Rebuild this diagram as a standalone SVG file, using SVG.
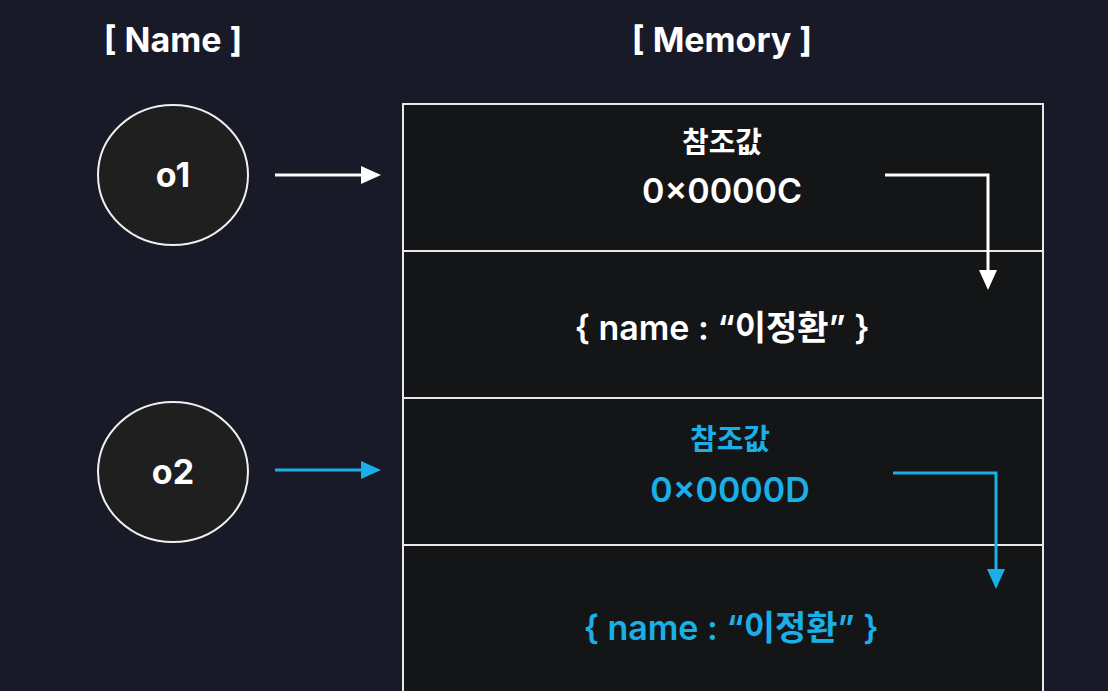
<svg xmlns="http://www.w3.org/2000/svg" width="1108" height="691" viewBox="0 0 1108 691">
<style>
.t{font-family:Inter,"Noto Sans CJK KR",sans-serif;font-weight:700;text-anchor:middle;fill:#ffffff}
.m{font-weight:600;font-size:34px}
.k{font-size:29px}
.b{fill:#1aafe6}
.cell{fill:#131517;stroke:#e8e8e8;stroke-width:2}
.node{fill:#1f1f1f;stroke:#f0f0f0;stroke-width:2}
</style>
<defs>
<marker id="aw" markerWidth="20" markerHeight="18" refX="4" refY="5" orient="auto" markerUnits="userSpaceOnUse" viewBox="0 0 10 10" preserveAspectRatio="none"><path d="M0,0 L10,5 L0,10 z" fill="#ffffff"/></marker>
<marker id="ab" markerWidth="20" markerHeight="18" refX="4" refY="5" orient="auto" markerUnits="userSpaceOnUse" viewBox="0 0 10 10" preserveAspectRatio="none"><path d="M0,0 L10,5 L0,10 z" fill="#1aafe6"/></marker>
</defs>
<rect width="1108" height="691" fill="#191a27"/>
<text class="t" x="173" y="52" font-size="34">[ Name ]</text>
<text class="t" x="722" y="52" font-size="34">[ Memory ]</text>
<g id="o1"><ellipse class="node" cx="173" cy="175" rx="75" ry="70"/><text class="t" x="173" y="187" font-size="34">o1</text></g>
<g id="o2"><ellipse class="node" cx="173" cy="472" rx="75" ry="70"/><text class="t" x="173" y="484" font-size="34">o2</text></g>
<g id="memory">
<rect class="cell" x="403" y="104" width="640" height="147"/>
<rect class="cell" x="403" y="251" width="640" height="147"/>
<rect class="cell" x="403" y="398" width="640" height="147"/>
<rect class="cell" x="403" y="545" width="640" height="147"/>
</g>
<g id="ref1"><text class="t k" x="722" y="153">참조값</text><text class="t m" x="722" y="203">0×0000C</text></g>
<g id="obj1"><text class="t m" x="722" y="340">{ name : “이정환” }</text></g>
<g id="ref2"><text class="t k b" x="730" y="450">참조값</text><text class="t m b" x="730" y="502">0×0000D</text></g>
<g id="obj2"><text class="t m b" x="731" y="640">{ name : “이정환” }</text></g>
<g id="connectors" fill="none" stroke-width="3">
<path d="M275,175 H369" stroke="#ffffff" marker-end="url(#aw)"/>
<path d="M275,470 H369" stroke="#1aafe6" marker-end="url(#ab)"/>
<path d="M885,175 H988 V278" stroke="#ffffff" marker-end="url(#aw)"/>
<path d="M893,473 H996 V577" stroke="#1aafe6" marker-end="url(#ab)"/>
</g>
</svg>
